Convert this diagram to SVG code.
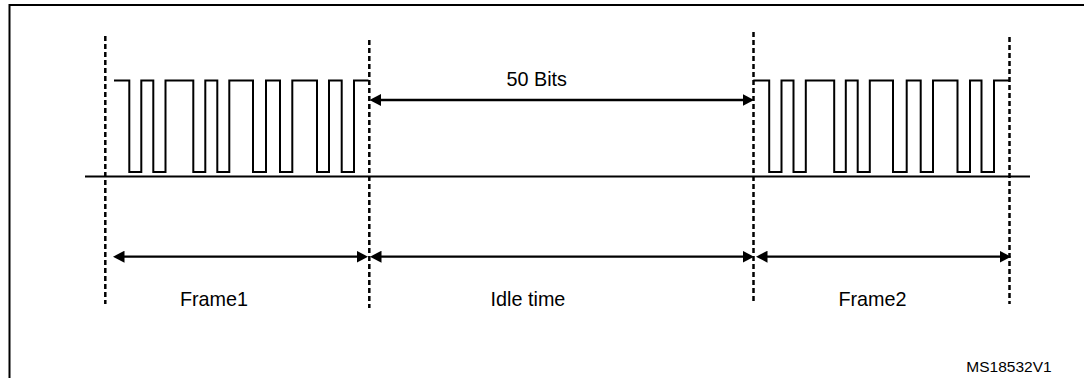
<svg xmlns="http://www.w3.org/2000/svg" width="1084" height="378" viewBox="0 0 1084 378">
<style>
.frame{fill:none;stroke:#000;stroke-width:2}
.wave{fill:none;stroke:#000;stroke-width:2;stroke-linejoin:miter}
.base{stroke:#000;stroke-width:2}
.dot{stroke:#000;stroke-width:2.5;stroke-dasharray:5 3}
.arr{stroke:#000;stroke-width:2.3;marker-start:url(#ah);marker-end:url(#ah)}
.lbl{font-family:"Liberation Sans",Arial,sans-serif;font-size:19.8px;fill:#000;text-anchor:middle}
.ref{font-family:"Liberation Sans",Arial,sans-serif;font-size:15.5px;fill:#000;text-anchor:middle}
</style>
<defs>
<marker id="ah" markerUnits="userSpaceOnUse" markerWidth="12" markerHeight="12" refX="6" refY="6" orient="auto-start-reverse" viewBox="0 0 12 12">
<path d="M0,0 L11.5,6 L0,12 z" fill="#000"/>
</marker>
</defs>
<rect width="1084" height="378" fill="#fff"/>
<g id="border">
<path class="frame" d="M9.5,378 V5 H1084"/>
</g>
<g id="signal">
<line class="base" x1="85" y1="176.5" x2="1030" y2="176.5"/>
<path id="frame1-wave" class="wave" d="M114,80.5 H129.3 V172 H141.3 V80.5 H153.3 V172 H165.5 V80.5 H193.3 V172 H205.3 V80.5 H217.3 V172 H229.3 V80.5 H253 V172 H266 V80.5 H280 V172 H292.3 V80.5 H317 V172 H329 V80.5 H341.7 V172 H354 V80.5 H368.5"/>
<path id="frame2-wave" class="wave" d="M753.3,80.5 H769.2 V172 H781.5 V80.5 H793.5 V172 H805.8 V80.5 H834.2 V172 H845.8 V80.5 H857.7 V172 H869.8 V80.5 H893 V172 H906.7 V80.5 H920.7 V172 H933 V80.5 H957.5 V172 H970 V80.5 H981.5 V172 H994 V80.5 H1009.3"/>
</g>
<g id="markers">
<line class="dot" x1="105.3" y1="36" x2="105.3" y2="304"/>
<line class="dot" x1="369.3" y1="40" x2="369.3" y2="308"/>
<line class="dot" x1="753.5" y1="32" x2="753.5" y2="301"/>
<line class="dot" x1="1009.5" y1="37" x2="1009.5" y2="304"/>
</g>
<g id="connectors">
<line class="arr" x1="375" y1="100" x2="748.5" y2="100"/>
<line class="arr" x1="118.5" y1="256.7" x2="362.5" y2="256.7"/>
<line class="arr" x1="375.5" y1="256.7" x2="748.5" y2="256.7"/>
<line class="arr" x1="761.5" y1="256.7" x2="1005.5" y2="256.7"/>
</g>
<g id="labels">
<text class="lbl" x="536.7" y="86">50 Bits</text>
<text class="lbl" x="214" y="305.7">Frame1</text>
<text class="lbl" x="528" y="305.7">Idle time</text>
<text class="lbl" x="872.5" y="305.7">Frame2</text>
<text class="ref" x="1009" y="371.5">MS18532V1</text>
</g>
</svg>
